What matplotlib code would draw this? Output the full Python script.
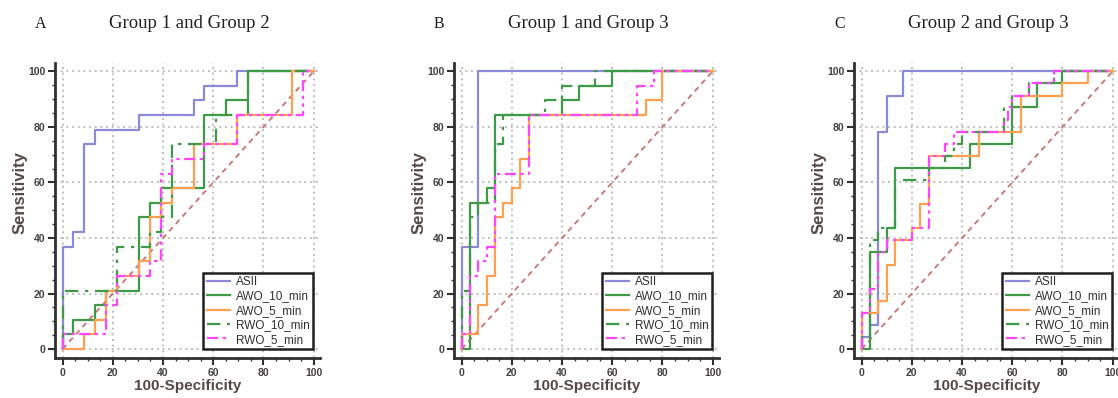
import matplotlib
matplotlib.use("Agg")
import matplotlib.pyplot as plt
from matplotlib.ticker import MultipleLocator

# ROC points, steps-post: (x where curve jumps, y after the jump)
# Panel A: Group 1 and Group 2
A_ASII_X   = [0, 0, 4.35, 8.7, 13.0, 30.4, 52.2, 56.5, 69.6, 100]
A_ASII_Y   = [0, 36.8, 42.1, 73.7, 78.9, 84.2, 89.5, 94.7, 100, 100]
A_AWO10_X  = [0, 0, 4.35, 13.0, 17.4, 30.4, 34.8, 39.1, 56.5, 65.2, 73.9, 100]
A_AWO10_Y  = [0, 5.3, 10.5, 15.8, 21.1, 47.4, 52.6, 57.9, 84.2, 89.5, 100, 100]
A_AWO5_X   = [0, 8.7, 13.0, 17.4, 21.7, 30.4, 34.8, 39.1, 43.5, 52.2, 69.6, 91.3, 100]
A_AWO5_Y   = [0, 5.3, 10.5, 21.1, 26.3, 31.6, 47.4, 52.6, 57.9, 73.7, 84.2, 100, 100]
A_RWO10_X  = [0, 0, 21.7, 34.8, 39.1, 43.5, 60.9, 73.9, 100]
A_RWO10_Y  = [0, 21.1, 36.8, 42.1, 47.4, 73.7, 84.2, 100, 100]
A_RWO5_X   = [0, 0, 17.4, 21.7, 34.8, 39.1, 43.5, 56.5, 69.6, 95.7, 100]
A_RWO5_Y   = [0, 5.3, 15.8, 26.3, 31.6, 63.2, 68.4, 73.7, 84.2, 100, 100]

# Panel B: Group 1 and Group 3
B_ASII_X   = [0, 0, 6.7, 100]
B_ASII_Y   = [0, 36.8, 100, 100]
B_AWO10_X  = [0, 3.3, 10.0, 13.3, 40.0, 46.7, 60.0, 100]
B_AWO10_Y  = [0, 52.6, 57.9, 84.2, 89.5, 94.7, 100, 100]
B_AWO5_X   = [0, 0, 6.7, 10.0, 13.3, 16.7, 20.0, 23.3, 26.7, 73.3, 80.0, 100]
B_AWO5_Y   = [0, 5.3, 15.8, 26.3, 47.4, 52.6, 57.9, 68.4, 84.2, 89.5, 100, 100]
B_RWO10_X  = [0, 0, 3.3, 6.7, 13.3, 16.7, 33.3, 40.0, 53.3, 100]
B_RWO10_Y  = [0, 21.1, 47.4, 52.6, 73.7, 84.2, 89.5, 94.7, 100, 100]
B_RWO5_X   = [0, 0, 3.3, 6.7, 10.0, 13.3, 26.7, 70.0, 76.7, 100]
B_RWO5_Y   = [0, 5.3, 26.3, 31.6, 36.8, 63.2, 84.2, 94.7, 100, 100]

# Panel C: Group 2 and Group 3
C_ASII_X   = [0, 0, 3.3, 6.7, 10.0, 16.7, 100]
C_ASII_Y   = [0, 4.3, 8.7, 78.3, 91.3, 100, 100]
C_AWO10_X  = [0, 3.3, 10.0, 13.3, 43.3, 60.0, 70.0, 80.0, 100]
C_AWO10_Y  = [0, 34.8, 43.5, 65.2, 73.9, 87.0, 95.7, 100, 100]
C_AWO5_X   = [0, 0, 6.7, 10.0, 13.3, 20.0, 23.3, 26.7, 46.7, 63.3, 80.0, 90.0, 100]
C_AWO5_Y   = [0, 13.0, 17.4, 30.4, 39.1, 43.5, 52.2, 69.6, 78.3, 91.3, 95.7, 100, 100]
C_RWO10_X  = [0, 0, 3.3, 6.7, 13.3, 26.7, 33.3, 36.7, 40.0, 56.7, 60.0, 66.7, 76.7, 100]
C_RWO10_Y  = [0, 4.3, 39.1, 43.5, 60.9, 65.2, 69.6, 73.9, 78.3, 87.0, 91.3, 95.7, 100, 100]
C_RWO5_X   = [0, 0, 3.3, 6.7, 10.0, 20.0, 26.7, 33.3, 36.7, 56.7, 58.3, 60.0, 66.7, 76.7, 100]
C_RWO5_Y   = [0, 13.0, 21.7, 34.8, 39.1, 43.5, 69.6, 73.9, 78.3, 82.6, 87.0, 91.3, 95.7, 100, 100]

LABELS  = ["ASII", "AWO_10_min", "AWO_5_min", "RWO_10_min", "RWO_5_min"]
LETTERS = ["A", "B", "C"]
TITLES  = ["Group 1 and Group 2", "Group 1 and Group 3", "Group 2 and Group 3"]

panels = [
    [(A_ASII_X, A_ASII_Y), (A_AWO10_X, A_AWO10_Y), (A_AWO5_X, A_AWO5_Y), (A_RWO10_X, A_RWO10_Y), (A_RWO5_X, A_RWO5_Y)],
    [(B_ASII_X, B_ASII_Y), (B_AWO10_X, B_AWO10_Y), (B_AWO5_X, B_AWO5_Y), (B_RWO10_X, B_RWO10_Y), (B_RWO5_X, B_RWO5_Y)],
    [(C_ASII_X, C_ASII_Y), (C_AWO10_X, C_AWO10_Y), (C_AWO5_X, C_AWO5_Y), (C_RWO10_X, C_RWO10_Y), (C_RWO5_X, C_RWO5_Y)],
]

colors = ["#8a8ad8", "#3e9a46", "#ffa050", "#3e9a46", "#ff44ff"]
styles = ["-", "-", "-", (0, (6, 3, 1.5, 3)), (0, (5, 2, 1.5, 2, 1.5, 2))]

W, H = 1118, 398
fig = plt.figure(figsize=(W / 100, H / 100), dpi=100)

ax_left = [55, 454, 854]
tick_col = "#454040"
lab_col = "#564846"
for i in range(3):
    ax = fig.add_axes([ax_left[i] / W, 1 - 358 / H, 265 / W, 295 / H])
    ax.set_xlim(-3, 102.5)
    ax.set_ylim(-3.2, 103)

    ax.plot([0, 100], [0, 100], color="#cc7070", lw=1.3, ls=(0, (3, 2.5)), zorder=2)
    for k, (xs, ys) in enumerate(panels[i]):
        ax.plot(xs, ys, drawstyle="steps-post", color=colors[k], ls=styles[k],
                lw=1.6, label=LABELS[k], zorder=3 + k)

    ax.xaxis.set_major_locator(MultipleLocator(20))
    ax.yaxis.set_major_locator(MultipleLocator(20))
    ax.xaxis.set_minor_locator(MultipleLocator(5))
    ax.yaxis.set_minor_locator(MultipleLocator(5))
    ax.grid(True, which="major", color="#b4b4b4", ls=(0, (1.2, 2.2)), lw=1.2, zorder=1)
    for s in ["top", "right"]:
        ax.spines[s].set_visible(False)
    for s in ["left", "bottom"]:
        ax.spines[s].set_linewidth(2)
        ax.spines[s].set_color("#303030")
    ax.tick_params(which="major", direction="out", length=5, width=1.5, color="#303030",
                   labelsize=7.5, labelcolor=tick_col, pad=2)
    ax.tick_params(which="minor", direction="out", length=2.5, width=1, color="#303030")
    for t in ax.get_xticklabels() + ax.get_yticklabels():
        t.set_fontfamily("Liberation Sans")
        t.set_fontweight("bold")

    ax.set_xlabel("100-Specificity", fontsize=11, family="Liberation Sans",
                  fontweight="bold", color=lab_col, labelpad=1)
    ax.set_ylabel("Sensitivity", fontsize=12, family="Liberation Sans",
                  fontweight="bold", color=lab_col)
    ax.yaxis.set_label_coords(-0.105, 0.56)

    leg = ax.legend(loc="lower right", bbox_to_anchor=(0.975, 0.03),
                    prop={"family": "Liberation Sans", "size": 8.5},
                    handlelength=2.0, handletextpad=0.5, labelspacing=0.2,
                    borderpad=0.3, borderaxespad=0, fancybox=False, framealpha=1)
    leg.get_frame().set_edgecolor("#202020")
    leg.get_frame().set_linewidth(1.8)
    for t in leg.get_texts():
        t.set_color("#303030")

    fig.text((ax_left[i] - 20) / W, 1 - 28 / H, LETTERS[i], family="Liberation Serif",
             fontsize=11.5, color="#202020")
    fig.text((ax_left[i] + 134) / W, 1 - 28 / H, TITLES[i], family="Liberation Serif",
             fontsize=13.5, color="#202020", ha="center")

fig.savefig("out.png", dpi=100)
